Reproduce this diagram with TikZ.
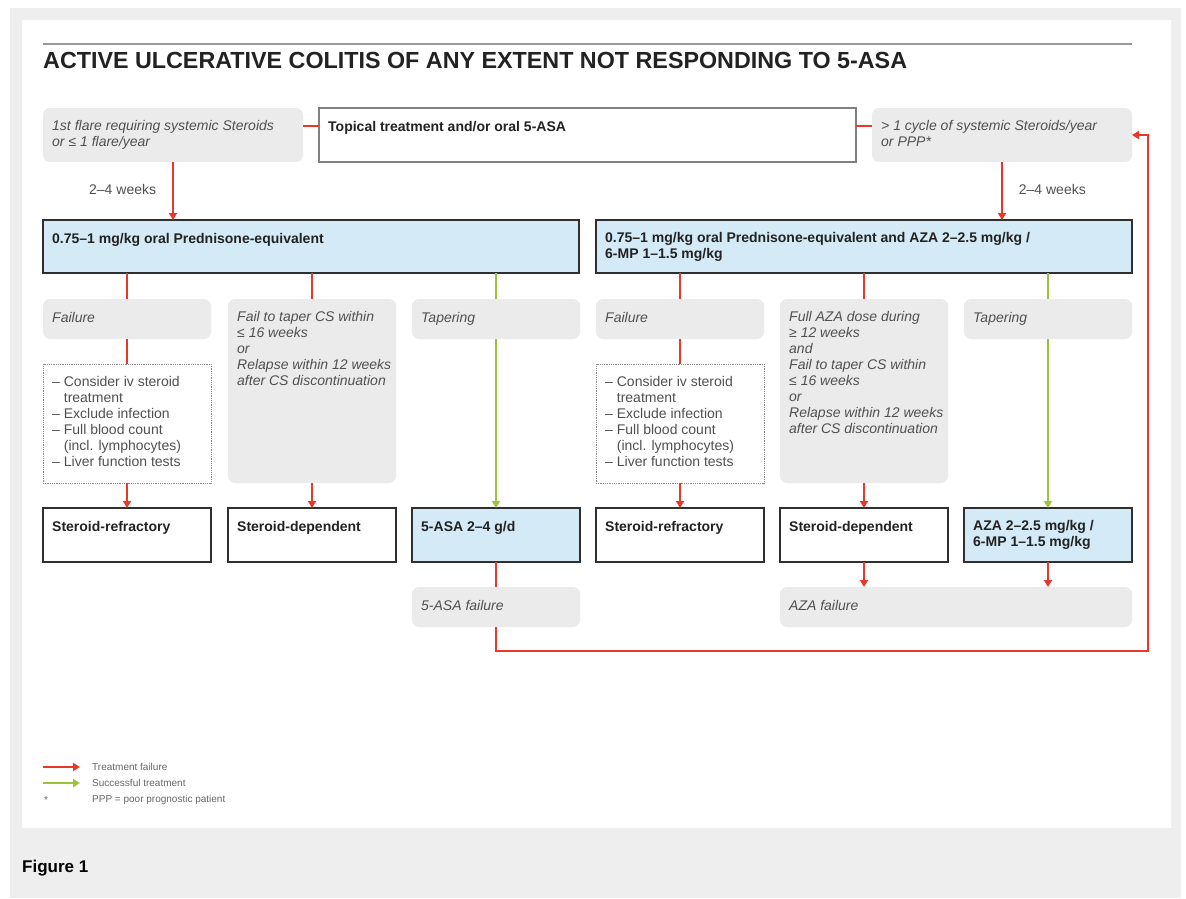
\documentclass[tikz,border=0pt]{standalone}
\usepackage{fontspec}
\setmainfont{Liberation Sans}
\usetikzlibrary{arrows.meta}

\definecolor{pagegrey}{HTML}{EEEEEE}
\definecolor{boxgrey}{HTML}{EBEBEB}
\definecolor{boxblue}{HTML}{D4EBF7}
\definecolor{linered}{HTML}{E8382A}
\definecolor{linegreen}{HTML}{9CC43A}
\definecolor{frameink}{HTML}{2F2F2F}
\definecolor{inktext}{HTML}{222222}
\definecolor{softtext}{HTML}{505050}

\tikzset{
  base/.style={anchor=north west, inner sep=0pt, outer sep=0pt},
  greybox/.style={base, fill=boxgrey, rounded corners=7pt},
  drugbox/.style={base, fill=boxblue, draw=frameink, line width=2.4pt},
  outcomebox/.style={base, fill=white, draw=frameink, line width=2.4pt},
  notebox/.style={base, fill=white, draw=black!45, densely dotted, line width=0.8pt},
  topbox/.style={base, fill=white, draw=black!50, line width=1.2pt},
  txt/.style={anchor=north west, inner sep=0pt, align=left,
    execute at begin node=\strut},
  soft/.style={txt, text=softtext, font=\fontsize{14}{16}\selectfont\itshape},
  ink/.style={txt, text=inktext, font=\fontsize{14}{16}\selectfont\bfseries},
  plain/.style={txt, text=softtext, font=\fontsize{14}{16}\selectfont},
  legendtxt/.style={anchor=west, inner sep=0pt, text=black!60, font=\fontsize{10}{12}\selectfont},
  fail/.style={draw=linered, line width=1.8pt},
  failarrow/.style={fail, -{Triangle[length=7pt,width=8pt]}},
  ok/.style={draw=linegreen, line width=1.8pt},
  okarrow/.style={ok, -{Triangle[length=7pt,width=8pt]}},
}

% name, box style, x, y, width, height, text style, text
\newcommand\flowbox[8]{%
  \node[#2, minimum width=#5pt, minimum height=#6pt] (#1) at (#3,#4) {};
  \node[#7] (#1-t) at ([xshift=9pt,yshift=-12pt]#1.north west) {#8};
}

\begin{document}
\begin{tikzpicture}[x=1pt,y=-1pt]
\useasboundingbox (0,0) rectangle (1186,898);
\fill[white] (0,0) rectangle (1186,898);
\fill[pagegrey] (10,8) rectangle (1181,898);
\fill[white] (22,20) rectangle (1171,828);

% heading
\draw[black!40, line width=1.4pt] (43,44) -- (1132,44);
\node[anchor=west, inner sep=0pt, text=inktext, font=\fontsize{23.3}{26}\selectfont\bfseries] (title) at (43,60)
  {ACTIVE ULCERATIVE COLITIS OF ANY EXTENT NOT RESPONDING TO 5-ASA};

% first row
\flowbox{first}{greybox}{43}{108}{260}{54}{soft}{1st flare requiring systemic Steroids\\or ≤ 1 flare/year}
\flowbox{topical}{topbox}{319}{108}{537}{54}{ink}{Topical treatment and/or oral 5-ASA}
\flowbox{cycle}{greybox}{872}{108}{260}{54}{soft}{> 1 cycle of systemic Steroids/year\\or PPP*}

% induction therapy
\flowbox{pred}{drugbox}{43}{220}{536}{53}{ink}{0.75–1 mg/kg oral Prednisone-equivalent}
\flowbox{predaza}{drugbox}{596}{220}{536}{53}{ink}{0.75–1 mg/kg oral Prednisone-equivalent and AZA 2–2.5 mg/kg /\\6-MP 1–1.5 mg/kg}

% response
\flowbox{failA}{greybox}{43}{299}{168}{40}{soft}{Failure}
\flowbox{depA}{greybox}{228}{299}{168}{184}{soft}{Fail to taper CS within\\≤ 16 weeks\\or\\Relapse within 12 weeks\\after CS discontinuation}
\flowbox{taperA}{greybox}{412}{299}{168}{40}{soft}{Tapering}
\flowbox{failB}{greybox}{596}{299}{168}{40}{soft}{Failure}
\flowbox{depB}{greybox}{780}{299}{168}{184}{soft}{Full AZA dose during\\≥ 12 weeks\\and\\Fail to taper CS within\\≤ 16 weeks\\or\\Relapse within 12 weeks\\after CS discontinuation}
\flowbox{taperB}{greybox}{964}{299}{168}{40}{soft}{Tapering}

% work-up lists
\flowbox{noteA}{notebox}{43}{364}{168}{119}{plain}{– Consider iv steroid\\\hphantom{–\ }treatment\\– Exclude infection\\– Full blood count\\\hphantom{–\ }(incl. lymphocytes)\\– Liver function tests}
\flowbox{noteB}{notebox}{596}{364}{168}{119}{plain}{– Consider iv steroid\\\hphantom{–\ }treatment\\– Exclude infection\\– Full blood count\\\hphantom{–\ }(incl. lymphocytes)\\– Liver function tests}

% outcomes
\flowbox{refA}{outcomebox}{43}{508}{168}{54}{ink}{Steroid-refractory}
\flowbox{sdA}{outcomebox}{228}{508}{168}{54}{ink}{Steroid-dependent}
\flowbox{asa}{drugbox}{412}{508}{168}{54}{ink}{5-ASA 2–4 g/d}
\flowbox{refB}{outcomebox}{596}{508}{168}{54}{ink}{Steroid-refractory}
\flowbox{sdB}{outcomebox}{780}{508}{168}{54}{ink}{Steroid-dependent}
\flowbox{aza}{drugbox}{964}{508}{168}{54}{ink}{AZA 2–2.5 mg/kg /\\6-MP 1–1.5 mg/kg}

% maintenance failure
\flowbox{asafail}{greybox}{412}{587}{168}{40}{soft}{5-ASA failure}
\flowbox{azafail}{greybox}{780}{587}{352}{40}{soft}{AZA failure}

% connectors, first row
\draw[fail] ([yshift=9pt]first.east) -- ([yshift=9pt]topical.west);
\draw[fail] ([yshift=9pt]topical.east) -- ([yshift=9pt]cycle.west);
\draw[failarrow] (first.south) -- (first.south |- pred.north)
  node[midway, plain, anchor=east, xshift=-16pt, execute at begin node={}] (wkA) {2–4 weeks};
\draw[failarrow] (cycle.south) -- (cycle.south |- predaza.north)
  node[midway, plain, anchor=west, xshift=16pt, execute at begin node={}] (wkB) {2–4 weeks};

% connectors, left branch
\draw[fail] (failA.north |- pred.south) -- (failA.north);
\draw[fail] (depA.north |- pred.south) -- (depA.north);
\draw[ok] (taperA.north |- pred.south) -- (taperA.north);
\draw[fail] (failA.south) -- (noteA.north);
\draw[failarrow] (noteA.south) -- (refA.north);
\draw[failarrow] (depA.south) -- (sdA.north);
\draw[okarrow] (taperA.south) -- (asa.north);
\draw[fail] (asa.south) -- (asafail.north);

% connectors, right branch
\draw[fail] (failB.north |- predaza.south) -- (failB.north);
\draw[fail] (depB.north |- predaza.south) -- (depB.north);
\draw[ok] (taperB.north |- predaza.south) -- (taperB.north);
\draw[fail] (failB.south) -- (noteB.north);
\draw[failarrow] (noteB.south) -- (refB.north);
\draw[failarrow] (depB.south) -- (sdB.north);
\draw[okarrow] (taperB.south) -- (aza.north);
\draw[failarrow] (sdB.south) -- (sdB.south |- azafail.north);
\draw[failarrow] (aza.south) -- (aza.south |- azafail.north);

% return loop after 5-ASA failure
\coordinate (loopcorner) at (1148,651);
\draw[failarrow] (asafail.south) |- (loopcorner) |- (cycle.east);

% legend
\coordinate (lgRa) at (43,767);
\coordinate (lgRb) at (80,767);
\coordinate (lgGa) at (43,783);
\coordinate (lgGb) at (80,783);
\draw[failarrow] (lgRa) -- (lgRb);
\draw[okarrow] (lgGa) -- (lgGb);
\node[legendtxt] (lgR) at (92,767) {Treatment failure};
\node[legendtxt] (lgG) at (92,783) {Successful treatment};
\node[legendtxt] (lgStar) at (44,800) {*};
\node[legendtxt] (lgP) at (92,800) {PPP = poor prognostic patient};

% caption
\node[anchor=west, inner sep=0pt, font=\fontsize{17}{20}\selectfont\bfseries] (fig) at (22,868) {Figure 1};
\end{tikzpicture}
\end{document}
